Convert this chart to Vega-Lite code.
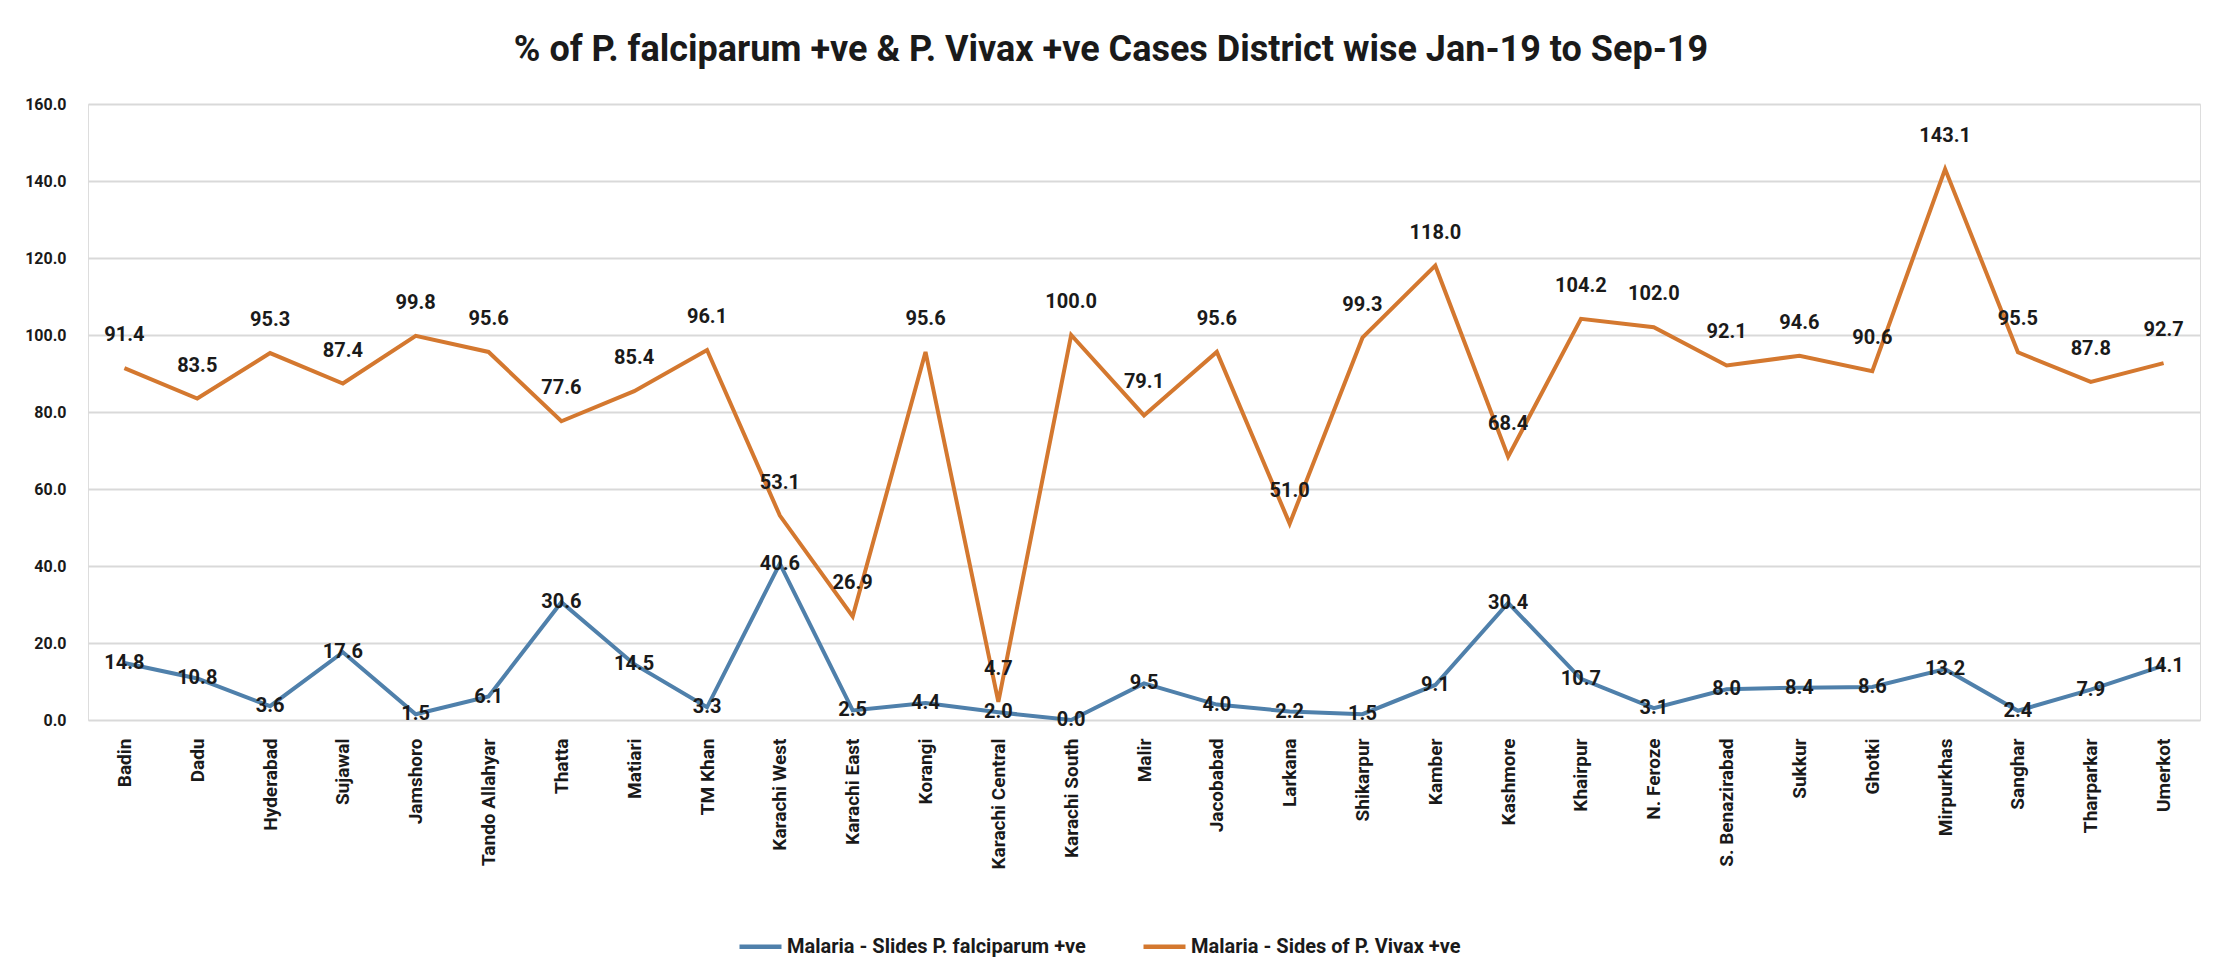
{
  "$schema": "https://vega.github.io/schema/vega-lite/v6.json",
  "width": 2112,
  "height": 616,
  "autosize": {"type": "none"},
  "padding": {"left": 88, "top": 104, "right": 16, "bottom": 254},
  "background": "white",
  "title": {
    "text": "% of P. falciparum +ve & P. Vivax +ve Cases District wise Jan-19 to Sep-19",
    "font": "Roboto",
    "fontSize": 36,
    "fontWeight": "bold",
    "color": "#1a1a1a",
    "anchor": "middle",
    "dx": -33,
    "offset": 27
  },
  "data": {
    "values": [
      {"district": "Badin", "series": "Malaria - Slides P. falciparum +ve", "value": 14.8},
      {"district": "Dadu", "series": "Malaria - Slides P. falciparum +ve", "value": 10.8},
      {"district": "Hyderabad", "series": "Malaria - Slides P. falciparum +ve", "value": 3.6},
      {"district": "Sujawal", "series": "Malaria - Slides P. falciparum +ve", "value": 17.6},
      {"district": "Jamshoro", "series": "Malaria - Slides P. falciparum +ve", "value": 1.5},
      {"district": "Tando Allahyar", "series": "Malaria - Slides P. falciparum +ve", "value": 6.1},
      {"district": "Thatta", "series": "Malaria - Slides P. falciparum +ve", "value": 30.6},
      {"district": "Matiari", "series": "Malaria - Slides P. falciparum +ve", "value": 14.5},
      {"district": "TM Khan", "series": "Malaria - Slides P. falciparum +ve", "value": 3.3},
      {"district": "Karachi West", "series": "Malaria - Slides P. falciparum +ve", "value": 40.6},
      {"district": "Karachi East", "series": "Malaria - Slides P. falciparum +ve", "value": 2.5},
      {"district": "Korangi", "series": "Malaria - Slides P. falciparum +ve", "value": 4.4},
      {"district": "Karachi Central", "series": "Malaria - Slides P. falciparum +ve", "value": 2.0},
      {"district": "Karachi South", "series": "Malaria - Slides P. falciparum +ve", "value": 0.0},
      {"district": "Malir", "series": "Malaria - Slides P. falciparum +ve", "value": 9.5},
      {"district": "Jacobabad", "series": "Malaria - Slides P. falciparum +ve", "value": 4.0},
      {"district": "Larkana", "series": "Malaria - Slides P. falciparum +ve", "value": 2.2},
      {"district": "Shikarpur", "series": "Malaria - Slides P. falciparum +ve", "value": 1.5},
      {"district": "Kamber", "series": "Malaria - Slides P. falciparum +ve", "value": 9.1},
      {"district": "Kashmore", "series": "Malaria - Slides P. falciparum +ve", "value": 30.4},
      {"district": "Khairpur", "series": "Malaria - Slides P. falciparum +ve", "value": 10.7},
      {"district": "N. Feroze", "series": "Malaria - Slides P. falciparum +ve", "value": 3.1},
      {"district": "S. Benazirabad", "series": "Malaria - Slides P. falciparum +ve", "value": 8.0},
      {"district": "Sukkur", "series": "Malaria - Slides P. falciparum +ve", "value": 8.4},
      {"district": "Ghotki", "series": "Malaria - Slides P. falciparum +ve", "value": 8.6},
      {"district": "Mirpurkhas", "series": "Malaria - Slides P. falciparum +ve", "value": 13.2},
      {"district": "Sanghar", "series": "Malaria - Slides P. falciparum +ve", "value": 2.4},
      {"district": "Tharparkar", "series": "Malaria - Slides P. falciparum +ve", "value": 7.9},
      {"district": "Umerkot", "series": "Malaria - Slides P. falciparum +ve", "value": 14.1},
      {"district": "Badin", "series": "Malaria - Sides of P. Vivax +ve", "value": 91.4},
      {"district": "Dadu", "series": "Malaria - Sides of P. Vivax +ve", "value": 83.5},
      {"district": "Hyderabad", "series": "Malaria - Sides of P. Vivax +ve", "value": 95.3},
      {"district": "Sujawal", "series": "Malaria - Sides of P. Vivax +ve", "value": 87.4},
      {"district": "Jamshoro", "series": "Malaria - Sides of P. Vivax +ve", "value": 99.8},
      {"district": "Tando Allahyar", "series": "Malaria - Sides of P. Vivax +ve", "value": 95.6},
      {"district": "Thatta", "series": "Malaria - Sides of P. Vivax +ve", "value": 77.6},
      {"district": "Matiari", "series": "Malaria - Sides of P. Vivax +ve", "value": 85.4},
      {"district": "TM Khan", "series": "Malaria - Sides of P. Vivax +ve", "value": 96.1},
      {"district": "Karachi West", "series": "Malaria - Sides of P. Vivax +ve", "value": 53.1},
      {"district": "Karachi East", "series": "Malaria - Sides of P. Vivax +ve", "value": 26.9},
      {"district": "Korangi", "series": "Malaria - Sides of P. Vivax +ve", "value": 95.6},
      {"district": "Karachi Central", "series": "Malaria - Sides of P. Vivax +ve", "value": 4.7},
      {"district": "Karachi South", "series": "Malaria - Sides of P. Vivax +ve", "value": 100.0},
      {"district": "Malir", "series": "Malaria - Sides of P. Vivax +ve", "value": 79.1},
      {"district": "Jacobabad", "series": "Malaria - Sides of P. Vivax +ve", "value": 95.6},
      {"district": "Larkana", "series": "Malaria - Sides of P. Vivax +ve", "value": 51.0},
      {"district": "Shikarpur", "series": "Malaria - Sides of P. Vivax +ve", "value": 99.3},
      {"district": "Kamber", "series": "Malaria - Sides of P. Vivax +ve", "value": 118.0},
      {"district": "Kashmore", "series": "Malaria - Sides of P. Vivax +ve", "value": 68.4},
      {"district": "Khairpur", "series": "Malaria - Sides of P. Vivax +ve", "value": 104.2},
      {"district": "N. Feroze", "series": "Malaria - Sides of P. Vivax +ve", "value": 102.0},
      {"district": "S. Benazirabad", "series": "Malaria - Sides of P. Vivax +ve", "value": 92.1},
      {"district": "Sukkur", "series": "Malaria - Sides of P. Vivax +ve", "value": 94.6},
      {"district": "Ghotki", "series": "Malaria - Sides of P. Vivax +ve", "value": 90.6},
      {"district": "Mirpurkhas", "series": "Malaria - Sides of P. Vivax +ve", "value": 143.1},
      {"district": "Sanghar", "series": "Malaria - Sides of P. Vivax +ve", "value": 95.5},
      {"district": "Tharparkar", "series": "Malaria - Sides of P. Vivax +ve", "value": 87.8},
      {"district": "Umerkot", "series": "Malaria - Sides of P. Vivax +ve", "value": 92.7}
    ]
  },
  "encoding": {
    "x": {
      "field": "district",
      "type": "nominal",
      "sort": null,
      "scale": {"type": "point", "padding": 0.5},
      "axis": {
        "title": null,
        "labelAngle": -90,
        "labelAlign": "right",
        "labelBaseline": "middle",
        "labelFont": "Roboto",
        "labelFontSize": 19,
        "labelFontWeight": "bold",
        "labelColor": "#1a1a1a",
        "labelPadding": 18,
        "labelLimit": 0,
        "domain": false,
        "ticks": false,
        "grid": false
      }
    },
    "y": {
      "field": "value",
      "type": "quantitative",
      "scale": {"domain": [0, 160], "nice": false},
      "axis": {
        "title": null,
        "values": [0, 20, 40, 60, 80, 100, 120, 140, 160],
        "format": ".1f",
        "labelFont": "Roboto",
        "labelFontSize": 16,
        "labelFontWeight": "bold",
        "labelColor": "#1a1a1a",
        "labelPadding": 22,
        "domain": false,
        "ticks": false,
        "grid": true,
        "gridColor": "#d9d9d9",
        "gridWidth": 2
      }
    }
  },
  "layer": [
    {
      "mark": {"type": "line", "strokeWidth": 4, "strokeJoin": "miter"},
      "encoding": {
        "order": {"value": null},
        "color": {
          "field": "series",
          "type": "nominal",
          "scale": {
            "domain": ["Malaria - Slides P. falciparum +ve", "Malaria - Sides of P. Vivax +ve"],
            "range": ["#4f80ab", "#d4782f"]
          },
          "legend": {
            "title": null,
            "orient": "none",
            "direction": "horizontal",
            "legendX": 649,
            "legendY": 819,
            "symbolType": "stroke",
            "symbolStrokeWidth": 4.5,
            "symbolSize": 1764,
            "labelFont": "Roboto",
            "labelFontSize": 20,
            "labelFontWeight": "bold",
            "labelColor": "#1a1a1a",
            "labelLimit": 0,
            "labelOffset": 3,
            "columnPadding": 48
          }
        }
      }
    },
    {
      "transform": [{"filter": "datum.series === 'Malaria - Slides P. falciparum +ve'"}],
      "mark": {
        "type": "text",
        "font": "Roboto",
        "fontSize": 20,
        "fontWeight": "bold",
        "color": "#1a1a1a",
        "align": "center",
        "baseline": "middle"
      },
      "encoding": {"text": {"field": "value", "type": "quantitative", "format": ".1f"}}
    },
    {
      "transform": [{"filter": "datum.series === 'Malaria - Sides of P. Vivax +ve'"}],
      "mark": {
        "type": "text",
        "font": "Roboto",
        "fontSize": 20,
        "fontWeight": "bold",
        "color": "#1a1a1a",
        "align": "center",
        "baseline": "middle",
        "dy": -33
      },
      "encoding": {"text": {"field": "value", "type": "quantitative", "format": ".1f"}}
    }
  ]
}
